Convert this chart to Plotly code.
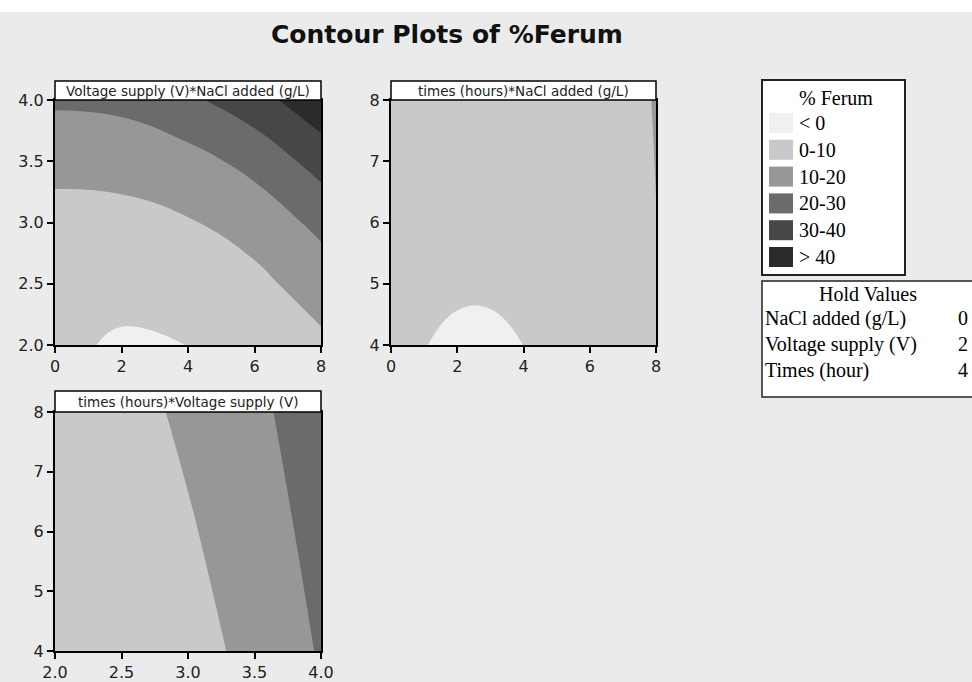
import plotly.graph_objects as go

# ---------------- data ----------------
# Panel 1: Voltage supply (V) vs NaCl added (g/L)
nacl_p1 = [0, 2, 4, 6, 8]
volt_p1 = [2.0, 2.5, 3.0, 3.5, 4.0]
ferum_p1 = [
    [2.0, -1.2, 0.05, 3.0, 8.0],
    [4.0, 2.8, 4.5, 7.5, 14.5],
    [7.0, 7.0, 9.3, 14.0, 22.5],
    [12.5, 13.5, 16.5, 23.0, 34.0],
    [21.5, 22.5, 28.0, 36.0, 47.0],
]

# Panel 2: times (hours) vs NaCl added (g/L)
nacl_p2 = [0, 1, 2, 3, 4, 6, 7, 8]
time_p2 = [4, 5, 6, 7, 8]
ferum_p2 = [
    [3.0, 0.3, -2.2, -2.3, 0.05, 4.0, 7.0, 9.0],
    [4.0, 2.5, 1.7, 1.6, 3.0, 5.5, 7.0, 9.5],
    [5.0, 4.0, 3.5, 3.8, 4.5, 6.5, 7.0, 9.9],
    [5.5, 4.8, 4.5, 4.8, 5.5, 7.0, 7.0, 10.15],
    [6.0, 5.3, 5.0, 5.3, 6.0, 7.5, 7.0, 10.5],
]

# Panel 3: times (hours) vs Voltage supply (V)
volt_p3 = [2.0, 2.5, 3.0, 3.5, 4.0]
time_p3 = [4, 6, 8]
ferum_p3 = [
    [2.0, 3.5, 5.8, 13.1, 20.8],
    [3.0, 4.7, 9.0, 15.5, 23.0],
    [4.0, 6.0, 12.0, 18.0, 25.0],
]

contour_levels = [0, 10, 20, 30, 40]
band_labels = ["< 0", "0-10", "10-20", "20-30", "30-40", "> 40"]
band_colors = ["#f0f0f0", "#c9c9c9", "#979797", "#6b6b6b", "#474747", "#2b2b2b"]

panel_titles = [
    "Voltage supply (V)*NaCl added (g/L)",
    "times (hours)*NaCl added (g/L)",
    "times (hours)*Voltage supply (V)",
]

hold_factors = ["NaCl added (g/L)", "Voltage supply (V)", "Times (hour)"]
hold_values = [0, 2, 4]

# ---------------- figure ----------------
W, H = 972, 682
BG = "#ebebeb"


def px(x):
    return x / W


def py(y):
    return 1 - y / H


colorscale = [[i / (len(band_colors) - 1), c] for i, c in enumerate(band_colors)]
step = contour_levels[1] - contour_levels[0]

fig = go.Figure()

panels = [
    (nacl_p1, volt_p1, ferum_p1, "x", "y"),
    (nacl_p2, time_p2, ferum_p2, "x2", "y2"),
    (volt_p3, time_p3, ferum_p3, "x3", "y3"),
]
for xs, ys, zs, xa, ya in panels:
    fig.add_trace(go.Contour(
        x=xs, y=ys, z=zs, xaxis=xa, yaxis=ya,
        autocontour=False,
        contours=dict(start=contour_levels[0], end=contour_levels[-1],
                      size=step, coloring="fill", showlines=False),
        colorscale=colorscale, showscale=False,
        line=dict(width=0, smoothing=1.3),
        hoverinfo="skip",
    ))

# panel boxes in pixels: (left, right, top, bottom, title_top)
boxes = [
    (55, 321, 100, 345, 81),
    (391, 656, 100, 345, 81),
    (55, 321, 412, 651, 391),
]

tick_font = dict(family="DejaVu Sans", size=16, color="#222222")
axis_common = dict(
    showgrid=False, zeroline=False, showline=True, linecolor="black",
    linewidth=2, mirror=True, ticks="outside", ticklen=6, tickwidth=1.5,
    tickcolor="black", tickfont=tick_font, automargin=False,
)

layout_axes = {}
ranges = [
    ((0, 8), 2, None, (2, 4), 0.5, ".1f"),
    ((0, 8), 2, None, (4, 8), 1, None),
    ((2, 4), 0.5, ".1f", (4, 8), 1, None),
]
for i, (b, r) in enumerate(zip(boxes, ranges)):
    l, rr, t, bt, tt = b
    suffix = "" if i == 0 else str(i + 1)
    xaxis = dict(axis_common, domain=[px(l), px(rr)], range=list(r[0]),
                 dtick=r[1], tick0=r[0][0], anchor="y" + suffix)
    if r[2]:
        xaxis["tickformat"] = r[2]
    yaxis = dict(axis_common, domain=[py(bt), py(t)], range=list(r[3]),
                 dtick=r[4], tick0=r[3][0], anchor="x" + suffix)
    if r[5]:
        yaxis["tickformat"] = r[5]
    layout_axes["xaxis" + suffix] = xaxis
    layout_axes["yaxis" + suffix] = yaxis

shapes = []
annotations = []

# white strip at top
shapes.append(dict(type="rect", xref="paper", yref="paper", x0=0, x1=1,
                   y0=py(12), y1=1, fillcolor="white", line=dict(width=0),
                   layer="below"))

# panel title boxes
for (l, rr, t, bt, tt), title in zip(boxes, panel_titles):
    shapes.append(dict(type="rect", xref="paper", yref="paper",
                       x0=px(l), x1=px(rr), y0=py(t), y1=py(tt),
                       fillcolor="white", line=dict(color="black", width=1.5)))
    annotations.append(dict(xref="paper", yref="paper", x=px((l + rr) / 2),
                            y=py((t + tt) / 2), text=title, showarrow=False,
                            xanchor="center", yanchor="middle",
                            font=dict(family="DejaVu Sans", size=13.5, color="#222222")))

# main title
annotations.append(dict(xref="paper", yref="paper", x=px(447), y=py(35),
                        text="<b>Contour Plots of %Ferum</b>", showarrow=False,
                        xanchor="center", yanchor="middle",
                        font=dict(family="DejaVu Sans", size=25, color="#111111")))

serif = dict(family="Liberation Serif", size=20, color="black")

# legend box
shapes.append(dict(type="rect", xref="paper", yref="paper",
                   x0=px(762), x1=px(905), y0=py(275), y1=py(80),
                   fillcolor="white", line=dict(color="#222222", width=2)))
annotations.append(dict(xref="paper", yref="paper", x=px(797), y=py(98),
                        text="% Ferum", showarrow=False, xanchor="left",
                        yanchor="middle", font=serif))
for k, (lab, col) in enumerate(zip(band_labels, band_colors)):
    yc = 123 + k * 26.8
    shapes.append(dict(type="rect", xref="paper", yref="paper",
                       x0=px(769), x1=px(793), y0=py(yc + 10), y1=py(yc - 10),
                       fillcolor=col, line=dict(width=0)))
    annotations.append(dict(xref="paper", yref="paper", x=px(797), y=py(yc),
                            text=lab, showarrow=False, xanchor="left",
                            yanchor="middle", font=serif))

# hold values box
shapes.append(dict(type="rect", xref="paper", yref="paper",
                   x0=px(762), x1=px(990), y0=py(397), y1=py(281),
                   fillcolor="white", line=dict(color="#222222", width=1.5)))
annotations.append(dict(xref="paper", yref="paper", x=px(868), y=py(294),
                        text="Hold Values", showarrow=False, xanchor="center",
                        yanchor="middle", font=serif))
for k, (fac, val) in enumerate(zip(hold_factors, hold_values)):
    yc = 318 + k * 26
    annotations.append(dict(xref="paper", yref="paper", x=px(763), y=py(yc),
                            text=fac, showarrow=False, xanchor="left",
                            yanchor="middle", font=serif))
    annotations.append(dict(xref="paper", yref="paper", x=px(963), y=py(yc),
                            text=str(val), showarrow=False, xanchor="center",
                            yanchor="middle", font=serif))

fig.update_layout(
    width=W, height=H, autosize=False,
    margin=dict(l=0, r=0, t=0, b=0),
    paper_bgcolor=BG, plot_bgcolor=BG,
    showlegend=False,
    shapes=shapes, annotations=annotations,
    **layout_axes,
)

fig.write_html("out.html",
               config={"displayModeBar": False},
               post_script="document.body.style.margin='0';"
                           "document.body.style.overflow='hidden';")
